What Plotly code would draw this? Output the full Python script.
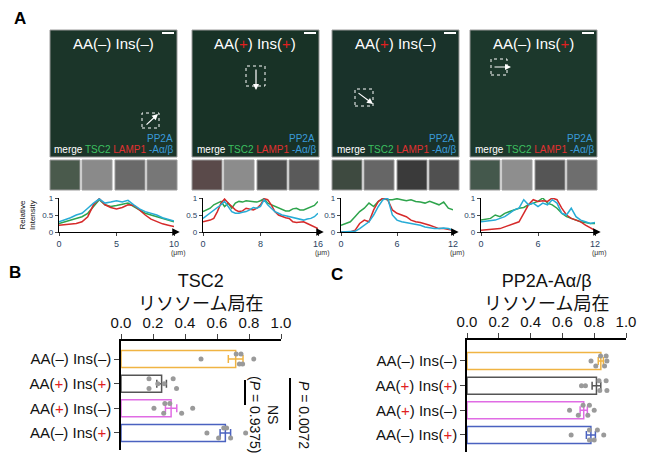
import numpy as np
import plotly.graph_objects as go

W, H = 649, 462
OFF = 8  # page margin around the plot div
FONT = "Arial, Liberation Sans, Noto Sans CJK JP, sans-serif"

# --- data ------------------------------------------------------------------
conditions = ["AA(–) Ins(–)", "AA(+) Ins(+)", "AA(+) Ins(–)", "AA(–) Ins(+)"]
bar_colors = ["#f0b443", "#555555", "#e06ce4", "#4a62c0"]

# per-experiment values (gray dots), lysosomal localisation
tsc2_dots = [
    [0.50, 0.72, 0.75, 0.83, 0.74, 0.76],
    [0.23, 0.175, 0.326, 0.27, 0.175, 0.347],
    [0.206, 0.274, 0.305, 0.448, 0.267, 0.379],
    [0.537, 0.642, 0.66, 0.779, 0.61, 0.685],
]
pp2a_dots = [
    [0.78, 0.875, 0.84, 0.88, 0.865, 0.81],
    [0.72, 0.875, 0.83, 0.745, 0.835, 0.88],
    [0.645, 0.77, 0.73, 0.80, 0.76, 0.70],
    [0.655, 0.82, 0.77, 0.86, 0.77, 0.80],
]
axis_ticks = [0.0, 0.2, 0.4, 0.6, 0.8, 1.0]

# line-scan profiles (relative intensity)
dist_10 = [0, 0.5, 1, 1.5, 2, 2.5, 3, 3.5, 4, 4.5, 5, 5.5, 6, 6.5, 7, 7.5,
           8, 8.5, 9, 9.5, 10]
dist_16 = [0, 0.5, 1, 1.5, 2, 2.5, 3, 3.5, 4, 4.5, 5, 5.5, 6, 6.5, 7, 7.5,
           8, 8.5, 9, 9.5, 10, 10.5, 11, 11.5, 12, 12.5, 13, 13.5, 14, 14.5,
           15, 15.5, 16]
dist_12 = [0, 0.5, 1, 1.5, 2, 2.5, 3, 3.5, 4, 4.5, 5, 5.5, 6, 6.5, 7, 7.5,
           8, 8.5, 9, 9.5, 10, 10.5, 11, 11.5, 12]

p1_tsc2 = [0.25, 0.3, 0.35, 0.4, 0.45, 0.55, 0.75, 0.95, 0.8, 0.75, 0.78,
           0.82, 0.85, 0.75, 0.65, 0.55, 0.5, 0.45, 0.4, 0.35, 0.3]
p1_lamp1 = [0.2, 0.21, 0.22, 0.25, 0.3, 0.45, 0.8, 0.98, 0.8, 0.72, 0.68,
            0.72, 0.8, 0.78, 0.65, 0.5, 0.38, 0.3, 0.24, 0.2, 0.16]
p1_pp2a = [0.3, 0.35, 0.42, 0.5, 0.55, 0.7, 0.85, 0.97, 0.85, 0.88, 0.92,
           0.88, 0.93, 0.8, 0.68, 0.6, 0.55, 0.5, 0.42, 0.38, 0.32]

p2_tsc2 = [0.6, 0.65, 0.7, 0.8, 0.85, 0.9, 0.75, 0.85, 0.7, 0.85, 0.9, 0.88,
           0.92, 0.9, 0.9, 0.88, 0.92, 0.98, 0.85, 0.8, 0.75, 0.7, 0.65, 0.62,
           0.62, 0.68, 0.7, 0.65, 0.65, 0.7, 0.75, 0.78, 0.9]
p2_lamp1 = [0.3, 0.32, 0.35, 0.4, 0.6, 0.85, 0.97, 0.85, 0.75, 0.65, 0.6,
            0.62, 0.7, 0.68, 0.65, 0.7, 0.8, 0.98, 0.95, 0.8, 0.6, 0.5, 0.45,
            0.42, 0.4, 0.3, 0.28, 0.3, 0.3, 0.25, 0.2, 0.15, 0.1]
p2_pp2a = [0.4, 0.48, 0.55, 0.62, 0.7, 0.8, 0.9, 0.75, 0.6, 0.55, 0.55, 0.58,
           0.6, 0.65, 0.72, 0.7, 0.75, 0.95, 0.8, 0.7, 0.6, 0.55, 0.5, 0.48,
           0.45, 0.42, 0.4, 0.38, 0.35, 0.38, 0.4, 0.45, 0.55]

p3_tsc2 = [0.2, 0.25, 0.3, 0.45, 0.6, 0.7, 0.85, 0.75, 0.9, 0.98, 0.95, 0.95,
           0.98, 0.95, 0.92, 0.95, 0.9, 0.88, 0.85, 0.9, 0.85, 0.8, 0.88, 0.7,
           0.65]
p3_lamp1 = [0.0, 0.0, 0.0, 0.05, 0.25, 0.35, 0.3, 0.65, 0.9, 1.0, 0.95, 0.65,
            0.55, 0.5, 0.45, 0.35, 0.3, 0.28, 0.25, 0.2, 0.15, 0.1, 0.1, 0.08,
            0.05]
p3_pp2a = [0.0, 0.0, 0.0, 0.02, 0.1, 0.2, 0.3, 0.5, 0.75, 0.95, 1.0, 0.5,
           0.35, 0.3, 0.28, 0.25, 0.22, 0.2, 0.15, 0.12, 0.1, 0.1, 0.12, 0.1,
           0.05]

p4_tsc2 = [0.35, 0.38, 0.4, 0.5, 0.45, 0.55, 0.6, 0.65, 0.7, 0.72, 0.8, 0.85,
           0.9, 1.0, 0.85, 0.8, 0.7, 0.55, 0.45, 0.4, 0.35, 0.3, 0.28, 0.25,
           0.25]
p4_lamp1 = [0.05, 0.06, 0.08, 0.09, 0.1, 0.15, 0.2, 0.25, 0.3, 0.55, 0.8,
            0.95, 0.9, 0.92, 0.9, 1.0, 0.95, 0.7, 0.5, 0.4, 0.35, 0.3, 0.2,
            0.12, 0.05]
p4_pp2a = [0.3, 0.32, 0.35, 0.35, 0.4, 0.45, 0.55, 0.65, 0.7, 0.95, 0.8, 0.85,
           0.75, 0.85, 0.8, 0.95, 0.85, 0.55, 0.5, 0.7, 0.45, 0.35, 0.3, 0.25,
           0.28]

profiles = [
    (dist_10, p1_tsc2, p1_lamp1, p1_pp2a, [0, 5, 10]),
    (dist_16, p2_tsc2, p2_lamp1, p2_pp2a, [0, 8, 16]),
    (dist_12, p3_tsc2, p3_lamp1, p3_pp2a, [0, 6, 12]),
    (dist_12, p4_tsc2, p4_lamp1, p4_pp2a, [0, 6, 12]),
]

# --- helpers ---------------------------------------------------------------
def fx(px):
    return (px - OFF) / W


def fy(py):
    return 1 - (py - OFF) / H


def red_plus(s):
    return s.replace("+", "<span style='color:#e02020'>+</span>")


def note(px, py, text, size, color="#111", family=FONT, **kw):
    # text placed by pixel position (centre by default)
    d = dict(xref="paper", yref="paper", x=fx(px), y=fy(py), text=text,
             showarrow=False, xanchor="center", yanchor="middle",
             font=dict(size=size, color=color, family=family))
    d.update(kw)
    return d


GREEN, RED, CYAN = "#2ea44c", "#d62a2a", "#27acd6"

fig = go.Figure()
shapes = []
annotations = []
layout_axes = {}

# --- panel A : image placeholders -------------------------------------------
img_left = [50, 192, 332, 470]
img_fill = ["#1b3529", "#183226", "#19322a", "#1c382c"]
thumb_fill = [
    ["#4a5a4c", "#8a8a8a", "#6a6a6a", "#777777"],
    ["#5a4a4a", "#8c8c8c", "#4c4c4c", "#5a5a5a"],
    ["#3e4a40", "#666666", "#3a3a3a", "#505050"],
    ["#44584c", "#8e8e8e", "#555555", "#6e6e6e"],
]
boxes = [(142, 113, 159, 128), (246, 66, 265, 86), (355, 89, 373, 106),
         (491, 59, 507, 75)]
arrows = [((145, 126), (158, 114)), ((256, 68), (256, 90)),
          ((357, 92), (373, 104)), ((493, 67), (511, 67))]

for i, left in enumerate(img_left):
    right = left + 127
    shapes.append(dict(type="rect", xref="paper", yref="paper",
                       x0=fx(left), x1=fx(right), y0=fy(157), y1=fy(30),
                       fillcolor=img_fill[i], line=dict(color="#9a9a9a", width=1),
                       layer="below"))
    for k, off in enumerate([0, 32, 65, 97]):
        shapes.append(dict(type="rect", xref="paper", yref="paper",
                           x0=fx(left + off), x1=fx(left + off + 30),
                           y0=fy(190), y1=fy(160), fillcolor=thumb_fill[i][k],
                           line=dict(color="#9a9a9a", width=1), layer="below"))
    # scale bar
    shapes.append(dict(type="line", xref="paper", yref="paper",
                       x0=fx(right - 15), x1=fx(right - 3), y0=fy(33), y1=fy(33),
                       line=dict(color="white", width=2)))
    bx0, by0, bx1, by1 = boxes[i]
    shapes.append(dict(type="rect", xref="paper", yref="paper",
                       x0=fx(bx0), x1=fx(bx1), y0=fy(by1), y1=fy(by0),
                       line=dict(color="white", width=1, dash="dot")))
    (ax0, ay0), (ax1, ay1) = arrows[i]
    annotations.append(dict(xref="paper", yref="paper", axref="pixel",
                            x=fx(ax1), y=fy(ay1), ax=ax0 - ax1, ay=ay0 - ay1,
                            showarrow=True, arrowhead=2, arrowsize=1,
                            arrowwidth=1.2, arrowcolor="white", text=""))
    annotations.append(note(left + 63, 43, red_plus(conditions[i]), 15,
                            color="white"))
    annotations.append(note(right - 2, 138, "PP2A", 10, color="#3a9ad9",
                            xanchor="right"))
    annotations.append(note(
        left + 64, 150,
        ("<span style='color:white'>merge</span> "
         "<span style='color:#3cc060'>TSC2</span> "
         "<span style='color:#e03030'>LAMP1</span> "
         "<span style='color:#3a9ad9'>-Aα/β</span>"), 10))

# --- panel A : line profiles ------------------------------------------------
prof_dom = [(59, 174), (203, 318), (341, 453), (481, 595)]
for i, (dist, g, r, c, ticks) in enumerate(profiles):
    n = i + 1
    xa, ya = f"x{n}", f"y{n}"
    for vals, col in [(g, GREEN), (r, RED), (c, CYAN)]:
        fig.add_trace(go.Scatter(x=dist, y=vals, mode="lines", xaxis=xa,
                                 yaxis=ya, cliponaxis=False, showlegend=False,
                                 line=dict(color=col, width=1.5)))
    x0, x1 = prof_dom[i]
    layout_axes[f"xaxis{n}"] = dict(
        domain=[fx(x0), fx(x1)], range=[0, ticks[-1]], anchor=ya,
        tickvals=ticks, ticks="outside", ticklen=3, showline=True,
        linecolor="black", linewidth=1.2, showgrid=False, zeroline=False,
        automargin=False, tickfont=dict(size=9, family=FONT))
    layout_axes[f"yaxis{n}"] = dict(
        domain=[fy(232), fy(198)], range=[0, 1], anchor=xa,
        tickvals=[0, 0.5, 1], ticktext=["0", "0.5", "1"], ticks="outside",
        ticklen=3, showline=True, linecolor="black", linewidth=1.2,
        showgrid=False, zeroline=False, automargin=False,
        tickfont=dict(size=8, family=FONT))
    annotations.append(dict(xref=xa, yref=ya, axref=xa, ayref=ya,
                            x=ticks[-1] * 1.05, y=0, ax=ticks[-1] * 0.98, ay=0,
                            showarrow=True, arrowhead=2, arrowsize=1,
                            arrowwidth=1.5, arrowcolor="black", text=""))
    annotations.append(note(x1 + 4, 253, "(μm)", 7, color="#333"))

annotations.append(note(27, 215, "Relative<br>Intensity", 8, textangle=-90))

# --- panels B and C : bar charts --------------------------------------------
dot_offsets = [0.0, -0.2, -0.2, 0.0, 0.2, 0.2]
bar_panels = [
    (5, tsc2_dots, (121, 281), (341, 450), [3.69, -0.73], "TSC2", 200),
    (6, pp2a_dots, (467, 626), (340, 452), [3.69, -0.85], "PP2A-Aα/β", 546),
]
for n, dots, (x0, x1), (y0, y1), yr, title, cx in bar_panels:
    xa, ya = f"x{n}", f"y{n}"
    for row, vals in enumerate(dots):
        v = np.array(vals)
        mean = v.mean()
        sem = v.std(ddof=1) / np.sqrt(len(v))
        fig.add_trace(go.Bar(
            x=[mean], y=[row], orientation="h", width=0.69, xaxis=xa, yaxis=ya,
            marker=dict(color="white", line=dict(color=bar_colors[row], width=1.5)),
            error_x=dict(type="data", array=[sem], color=bar_colors[row],
                         thickness=1.5, width=4),
            showlegend=False))
        fig.add_trace(go.Scatter(
            x=vals, y=[row + o for o in dot_offsets], mode="markers",
            xaxis=xa, yaxis=ya, showlegend=False, cliponaxis=False,
            marker=dict(color="#9a9a9a", size=5)))
    layout_axes[f"xaxis{n}"] = dict(
        domain=[fx(x0), fx(x1)], range=[0, 1], anchor=ya, side="top",
        tickvals=axis_ticks, tickformat=".1f", ticks="outside", ticklen=5,
        showline=True, linecolor="black", linewidth=1.5, showgrid=False,
        zeroline=False, automargin=False,
        tickfont=dict(size=15, family=FONT, color="#111"))
    layout_axes[f"yaxis{n}"] = dict(
        domain=[fy(y1), fy(y0)], range=yr, anchor=xa,
        tickvals=[0, 1, 2, 3], ticktext=[red_plus(c) for c in conditions],
        ticks="outside", ticklen=5, showline=True, linecolor="black",
        linewidth=1.5, showgrid=False, zeroline=False, automargin=False,
        tickfont=dict(size=15, family=FONT, color="#111"))
    annotations.append(note(cx, 292, f"{title}<br>リソソーム局在", 18))

# significance marks in B
for sx, sy0, sy1 in [(245, 380, 405), (290, 378, 430)]:
    shapes.append(dict(type="line", xref="paper", yref="paper",
                       x0=fx(sx), x1=fx(sx), y0=fy(sy0), y1=fy(sy1),
                       line=dict(color="black", width=2)))
annotations.append(note(264, 414, "NS<br>(<i>P</i> = 0.9375)", 14,
                        textangle=90))
annotations.append(note(304, 415, "<i>P</i> = 0.0072", 14, textangle=90))

# panel letters
for letter, lx, ly in [("A", 20, 18), ("B", 15, 272), ("C", 337, 274)]:
    annotations.append(note(lx, ly, f"<b>{letter}</b>", 17, color="black"))

fig.update_layout(
    width=W, height=H, margin=dict(l=0, r=0, t=0, b=0, pad=0),
    paper_bgcolor="white", plot_bgcolor="rgba(0,0,0,0)",
    shapes=shapes, annotations=annotations, barmode="overlay",
    font=dict(family=FONT), **layout_axes)

fig.write_html("out.html")
